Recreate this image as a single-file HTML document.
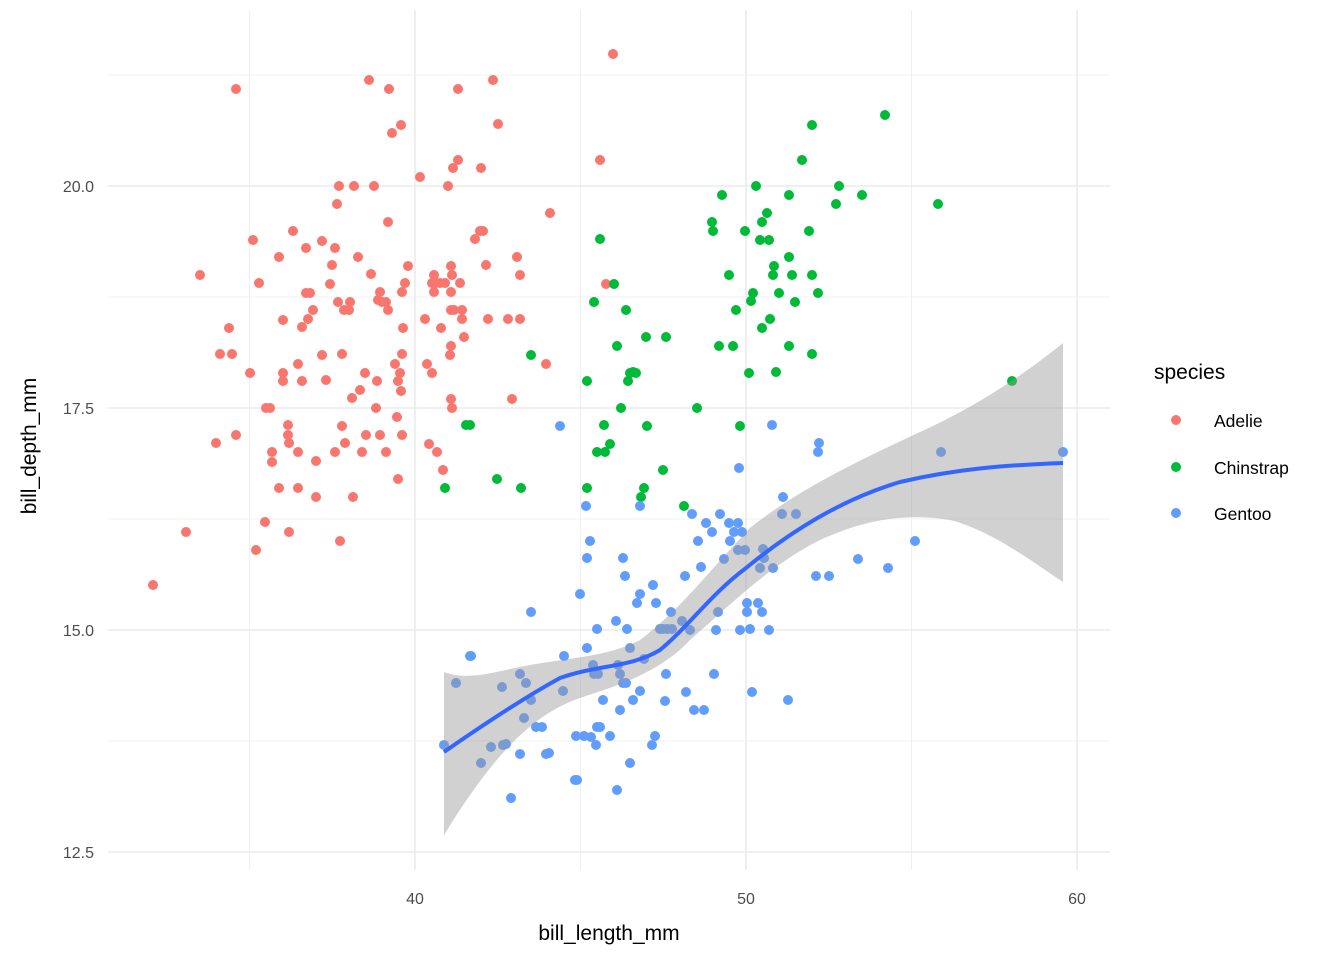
<!DOCTYPE html>
<html><head><meta charset="utf-8"><style>
html,body{margin:0;padding:0;background:#fff}
svg{display:block;font-family:"Liberation Sans",Arial,sans-serif}
</style></head><body>
<svg id="s" width="1344" height="960" viewBox="0 0 1344 960" xmlns="http://www.w3.org/2000/svg">
<g stroke="#ebebeb" fill="none">
<g stroke-width="0.8">
<line x1="108" x2="1110" y1="75" y2="75"/><line x1="108" x2="1110" y1="297" y2="297"/><line x1="108" x2="1110" y1="519" y2="519"/><line x1="108" x2="1110" y1="741" y2="741"/>
<line y1="10" y2="870" x1="249.5" x2="249.5"/><line y1="10" y2="870" x1="580.5" x2="580.5"/><line y1="10" y2="870" x1="911.5" x2="911.5"/>
</g>
<g stroke-width="1.6">
<line x1="108" x2="1110" y1="186" y2="186"/><line x1="108" x2="1110" y1="408" y2="408"/><line x1="108" x2="1110" y1="630" y2="630"/><line x1="108" x2="1110" y1="852" y2="852"/>
<line y1="10" y2="870" x1="415" x2="415"/><line y1="10" y2="870" x1="746" x2="746"/><line y1="10" y2="870" x1="1077" x2="1077"/>
</g></g>
<g font-size="16" fill="#4d4d4d" text-anchor="end">
<text x="94" y="192">20.0</text><text x="94" y="414">17.5</text><text x="94" y="636">15.0</text><text x="94" y="858">12.5</text>
</g>
<g font-size="16" fill="#4d4d4d" text-anchor="middle">
<text x="415" y="904">40</text><text x="746" y="904">50</text><text x="1077" y="904">60</text>
</g>
<text x="609" y="940" font-size="21" text-anchor="middle">bill_length_mm</text>
<text transform="translate(36,446) rotate(-90)" font-size="21" text-anchor="middle">bill_depth_mm</text>
<g id="pts"></g>
<path fill="#999" fill-opacity="0.45" d="M444,672 C470,682 500,670 530,665 C570,658 610,656 640,640 C680,610 710,570 750,528 C800,488 860,460 920,432 C980,405 1030,370 1063,343 L1063,582 C1030,560 990,530 950,520 C900,512 860,522 820,540 C770,565 730,605 690,640 C660,672 620,685 580,698 C530,715 490,760 444,835 Z"/>
<path fill="none" stroke="#3366ff" stroke-width="4" d="M444,752 C480,727 520,700 560,678 C600,664 630,668 660,650 C690,625 710,595 746,568 C790,532 840,500 900,482 C960,468 1010,465 1063,463"/>
<text x="1154" y="379" font-size="21">species</text>
<circle cx="1176" cy="420" r="5" fill="#F8766D"/><text x="1214" y="427" font-size="17.5">Adelie</text>
<circle cx="1176" cy="467" r="5" fill="#00BA38"/><text x="1214" y="474" font-size="17.5">Chinstrap</text>
<circle cx="1176" cy="513" r="5" fill="#619CFF"/><text x="1214" y="520" font-size="17.5">Gentoo</text>
</svg>
<script>
var A=[[153,585],[186,532],[200,275],[236,89],[216,443],[220,354],[232,354],[229,328],[236,435],[250,373],[253,240],[259,283],[265,522],[256,550],[266,408],[270,408],[272,452],[272,462],[279,257],[283,320],[283,373],[283,381],[293,231],[288,425],[288,435],[289,443],[289,532],[279,488],[298,488],[298,452],[298,364],[302,381],[302,327],[306,293],[306,248],[308,319],[313,310],[316,461],[316,497],[322,241],[322,355],[326,380],[330,284],[332,265],[335,248],[335,452],[337,204],[339,186],[338,302],[342,354],[342,426],[344,310],[345,443],[340,541],[349,310],[350,302],[352,398],[353,497],[354,186],[358,257],[360,390],[362,452],[365,373],[366,435],[369,80],[371,274],[374,186],[378,300],[377,381],[376,408],[380,292],[380,435],[382,302],[386,302],[386,452],[388,310],[388,222],[389,89],[392,133],[395,364],[397,417],[398,381],[398,479],[400,373],[401,391],[401,125],[402,292],[402,354],[402,435],[403,328],[405,283],[408,266],[420,177],[425,319],[427,364],[429,444],[432,283],[432,373],[434,275],[434,292],[436,283],[437,452],[440,283],[441,328],[443,470],[445,283],[448,186],[450,355],[451,346],[451,266],[452,275],[451,399],[452,408],[451,310],[451,292],[454,310],[458,89],[458,160],[460,283],[462,310],[462,319],[464,337],[475,239],[480,231],[483,231],[486,265],[488,319],[493,80],[498,124],[508,319],[512,399],[517,257],[520,275],[520,319],[546,364],[550,213],[600,160],[606,284],[613,54],[453,168],[481,168],[310,293]];
var C=[[445,488],[466,425],[470,425],[497,479],[521,488],[531,355],[587,381],[587,488],[594,302],[597,452],[600,239],[604,425],[605,452],[610,444],[614,284],[617,346],[621,408],[626,310],[628,381],[630,373],[633,372],[636,373],[646,337],[641,497],[644,488],[647,426],[663,470],[666,337],[684,506],[697,408],[712,222],[713,231],[719,346],[722,195],[729,275],[733,346],[736,310],[740,426],[745,231],[749,373],[751,301],[753,293],[756,186],[760,240],[762,222],[762,328],[767,213],[769,240],[770,319],[773,275],[774,266],[776,372],[779,293],[789,257],[789,346],[789,195],[792,275],[795,302],[802,160],[809,231],[812,275],[812,354],[812,125],[818,293],[836,204],[839,186],[862,195],[885,115],[938,204],[1012,381]];
var G=[[444,745],[471,656],[481,763],[502,687],[503,745],[506,744],[511,798],[520,674],[524,718],[526,683],[531,612],[531,700],[536,727],[542,727],[546,754],[560,426],[563,691],[564,656],[576,736],[577,780],[580,594],[584,736],[586,506],[587,558],[587,648],[591,737],[593,665],[594,674],[596,745],[597,629],[597,727],[598,674],[600,727],[603,700],[616,621],[617,790],[618,665],[620,710],[620,674],[623,683],[623,558],[625,576],[626,683],[627,629],[630,763],[630,648],[633,700],[637,603],[640,594],[640,691],[640,506],[644,659],[652,745],[655,736],[653,585],[656,603],[660,629],[663,629],[665,701],[666,674],[667,629],[672,629],[671,612],[682,621],[685,576],[686,692],[690,630],[692,514],[694,710],[698,541],[701,567],[704,710],[706,523],[712,532],[714,674],[716,630],[718,612],[720,514],[724,559],[729,523],[730,541],[734,532],[738,523],[738,550],[739,468],[740,630],[742,532],[747,603],[747,612],[750,629],[752,692],[758,603],[760,568],[762,612],[763,549],[764,558],[769,630],[772,425],[773,568],[782,514],[783,497],[788,700],[796,514],[816,576],[818,452],[819,443],[829,576],[858,559],[888,568],[915,541],[941,452],[1063,452],[745,550],[590,541],[456,683],[470,656],[491,747],[520,754],[610,736],[575,780],[549,753]];
var g=document.getElementById('pts'),h='';
[[A,'#F8766D'],[C,'#00BA38'],[G,'#619CFF']].forEach(function(p){p[0].forEach(function(q){h+='<circle cx="'+q[0]+'" cy="'+q[1]+'" r="5" fill="'+p[1]+'"/>';});});
g.innerHTML=h;
</script>
</body></html>
